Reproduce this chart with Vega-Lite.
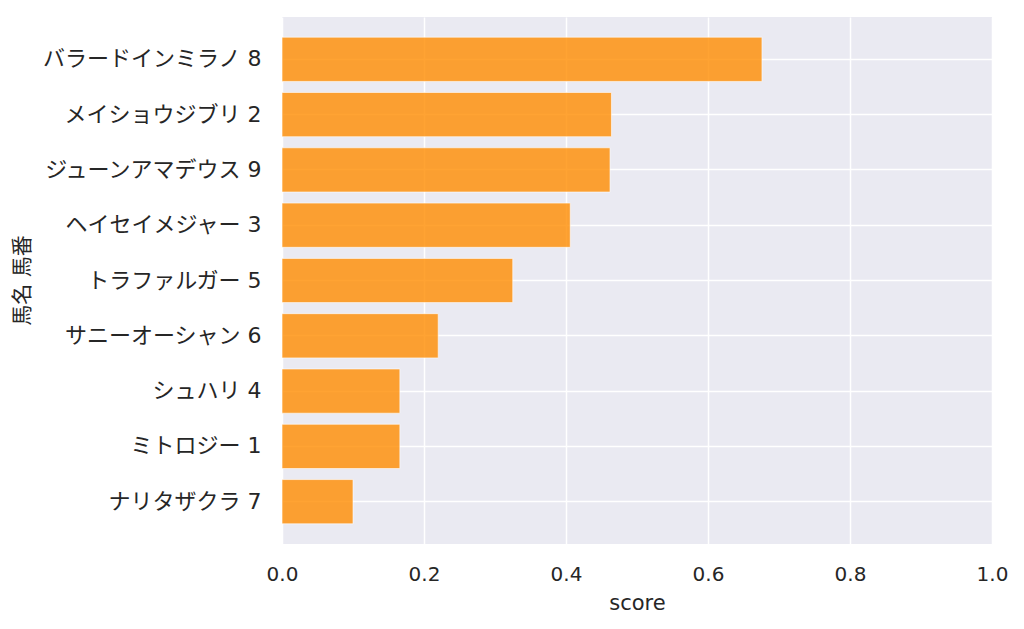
{
  "$schema": "https://vega.github.io/schema/vega-lite/v6.json",
  "autosize": "none",
  "width": 710,
  "height": 527,
  "padding": {"left": 282, "top": 17, "right": 32, "bottom": 85},
  "background": "white",
  "config": {
    "view": {"fill": "#EAEAF2", "stroke": null},
    "font": "DejaVu Sans, Noto Sans CJK JP",
    "axis": {
      "labelFont": "DejaVu Sans, Noto Sans CJK JP",
      "titleFont": "DejaVu Sans, Noto Sans CJK JP",
      "labelFontSize": 20,
      "titleFontSize": 21,
      "titleFontWeight": "normal",
      "labelColor": "#262626",
      "titleColor": "#262626",
      "labelLimit": 400,
      "labelFlush": false,
      "domain": false,
      "ticks": false,
      "gridColor": "white",
      "gridWidth": 1.5,
      "gridOpacity": 1
    }
  },
  "data": {
    "values": [
      {"name": "バラードインミラノ 8", "score": 0.676},
      {"name": "メイショウジブリ 2", "score": 0.464},
      {"name": "ジューンアマデウス 9", "score": 0.462},
      {"name": "ヘイセイメジャー 3", "score": 0.406},
      {"name": "トラファルガー 5", "score": 0.325},
      {"name": "サニーオーシャン 6", "score": 0.220},
      {"name": "シュハリ 4", "score": 0.166},
      {"name": "ミトロジー 1", "score": 0.166},
      {"name": "ナリタザクラ 7", "score": 0.100}
    ]
  },
  "mark": {"type": "bar", "color": "#FF8C00", "fillOpacity": 0.8, "stroke": "white", "strokeOpacity": 0.6, "strokeWidth": 1},
  "encoding": {
    "y": {
      "field": "name",
      "type": "nominal",
      "sort": null,
      "title": "馬名 馬番",
      "scale": {"paddingInner": 0.2, "paddingOuter": 0.365},
      "axis": {
        "bandPosition": 0.5,
        "labelFontSize": 22,
        "labelPadding": 21,
        "grid": true,
        "titleX": -260,
        "titleY": 263,
        "titleAngle": -90,
        "titleAlign": "center",
        "titleBaseline": "middle"
      }
    },
    "x": {
      "field": "score",
      "type": "quantitative",
      "title": "score",
      "scale": {"domain": [0, 1]},
      "axis": {"values": [0, 0.2, 0.4, 0.6, 0.8, 1.0], "format": ".1f", "labelPadding": 20, "titlePadding": 8, "grid": true}
    }
  }
}
